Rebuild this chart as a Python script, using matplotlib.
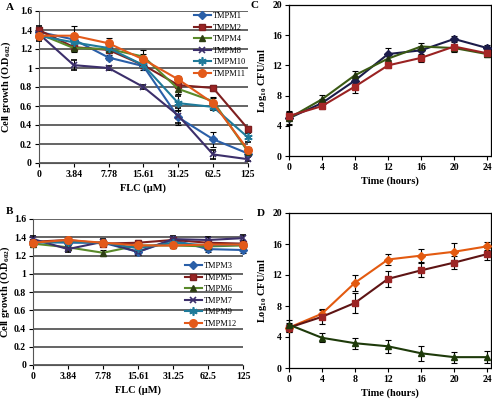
import matplotlib
matplotlib.use("Agg")
import matplotlib.pyplot as plt
from matplotlib.ticker import FuncFormatter

plt.rcParams['font.family'] = ['Liberation Serif', 'DejaVu Serif']
plt.rcParams['mathtext.fontset'] = 'custom'
plt.rcParams['mathtext.rm'] = 'Liberation Serif'
plt.rcParams['mathtext.it'] = 'Liberation Serif'
plt.rcParams['mathtext.bf'] = 'Liberation Serif:bold'

# ---------------- data ----------------
flc_labels = ["0", "3.84", "7.78", "15.61", "31.25", "62.5", "125"]

a_names = ["TMPM1", "TMPM2", "TMPM4", "TMPM8", "TMPM10", "TMPM11"]
a_tmpm1 = [1.38, 1.30, 1.11, 1.02, 0.48, 0.25, 0.10]
a_tmpm2 = [1.40, 1.22, 1.19, 1.03, 0.82, 0.79, 0.36]
a_tmpm4 = [1.36, 1.21, 1.20, 1.12, 0.78, 0.65, 0.12]
a_tmpm8 = [1.36, 1.03, 1.00, 0.80, 0.50, 0.09, 0.04]
a_tmpm10 = [1.34, 1.27, 1.21, 1.03, 0.63, 0.59, 0.27]
a_tmpm11 = [1.34, 1.34, 1.26, 1.09, 0.88, 0.63, 0.14]
a_err1 = [0.03, 0.03, 0.03, 0.04, 0.08, 0.08, 0.03]
a_err2 = [0.03, 0.03, 0.03, 0.03, 0.03, 0.03, 0.03]
a_err4 = [0.03, 0.04, 0.03, 0.07, 0.05, 0.05, 0.03]
a_err8 = [0.08, 0.05, 0.02, 0.02, 0.08, 0.05, 0.02]
a_err10 = [0.03, 0.04, 0.03, 0.03, 0.08, 0.03, 0.05]
a_err11 = [0.03, 0.10, 0.06, 0.06, 0.04, 0.05, 0.03]

b_names = ["TMPM3", "TMPM5", "TMPM6", "TMPM7", "TMPM9", "TMPM12"]
b_tmpm3 = [1.35, 1.34, 1.34, 1.24, 1.37, 1.27, 1.26]
b_tmpm5 = [1.35, 1.37, 1.33, 1.34, 1.37, 1.34, 1.33]
b_tmpm6 = [1.33, 1.29, 1.23, 1.31, 1.31, 1.30, 1.31]
b_tmpm7 = [1.38, 1.27, 1.35, 1.24, 1.38, 1.37, 1.39]
b_tmpm9 = [1.34, 1.35, 1.34, 1.28, 1.34, 1.31, 1.32]
b_tmpm12 = [1.34, 1.37, 1.34, 1.31, 1.31, 1.32, 1.32]
b_err = [0.03, 0.03, 0.03, 0.03, 0.03, 0.03, 0.03]

hours = [0, 4, 8, 12, 16, 20, 24]
c_navy = [5.0, 7.0, 10.0, 13.5, 14.0, 15.5, 14.3]
c_red = [5.3, 6.6, 9.2, 12.0, 13.0, 14.5, 13.6]
c_green = [5.0, 7.5, 10.7, 12.9, 14.5, 14.3, 13.5]
c_err_navy = [0.8, 0.5, 0.6, 0.8, 0.6, 0.4, 0.4]
c_err_red = [0.5, 0.4, 0.9, 0.4, 0.5, 0.7, 0.4]
c_err_green = [0.9, 0.6, 0.5, 0.5, 0.5, 0.4, 0.4]

d_orange = [5.2, 7.0, 11.0, 14.0, 14.5, 15.0, 15.7]
d_red = [5.2, 6.6, 8.4, 11.5, 12.6, 13.6, 14.7]
d_green = [5.6, 3.9, 3.2, 2.8, 1.9, 1.4, 1.4]
d_err_orange = [0.5, 0.6, 1.0, 0.7, 0.8, 1.1, 0.5]
d_err_red = [0.6, 0.9, 1.3, 1.0, 0.9, 0.8, 0.8]
d_err_green = [0.6, 0.6, 0.7, 0.8, 1.0, 0.7, 0.8]

# ---------------- styles ----------------
st = [
    dict(color="#2a5fa8", marker="D", ms=3.8, mec="#2a5fa8", lw=1.5),
    dict(color="#7e1f1f", marker="s", ms=4.5, mec="#7e1f1f", mfc="#9b2525", lw=1.5),
    dict(color="#5a8a2a", marker="^", ms=5, mec="#2e3f14", mfc="#2e3f14", lw=1.5),
    dict(color="#3c2f6b", marker="x", ms=5, mew=1.2, lw=1.5),
    dict(color="#1f7a9a", marker=(6, 2, 0), ms=6, mew=1.2, lw=1.5),
    dict(color="#e35a1a", marker="o", ms=5.5, mec="#e35a1a", lw=1.5),
]

fig = plt.figure(figsize=(4.92, 4.0), dpi=100)

tick_fs = 7
lab_fs = 7.5
EB = dict(ecolor="black", elinewidth=0.8, capsize=2, capthick=0.8, clip_on=False, zorder=3)


def style_grid_axes(ax, ylab_x):
    ax.set_xlim(0, 6)
    ax.set_ylim(0, 1.6)
    ax.set_yticks([0, 0.2, 0.4, 0.6, 0.8, 1.0, 1.2, 1.4, 1.6])
    ax.yaxis.set_major_formatter(FuncFormatter(lambda v, p: f"{v:g}"))
    ax.set_xticks(range(7))
    ax.set_xticklabels(flc_labels)
    ax.grid(axis="y", color="#3a3a3a", lw=1.1)
    ax.set_axisbelow(True)
    for s in ["top", "right"]:
        ax.spines[s].set_visible(False)
    ax.spines["left"].set_color("#555555")
    ax.spines["bottom"].set_color("#555555")
    ax.tick_params(labelsize=tick_fs, length=3, width=0.8, direction="out", colors="black", pad=2)
    for lbl in ax.get_xticklabels() + ax.get_yticklabels():
        lbl.set_fontweight("bold")
    ax.set_ylabel(r"Cell growth (O.D$_{\mathbf{602}}$)", fontsize=lab_fs, fontweight="bold")
    ax.yaxis.set_label_coords(ylab_x, 0.5)
    ax.set_xlabel("FLC (\u00b5M)", fontsize=lab_fs, fontweight="bold", labelpad=3)


xs = list(range(7))

# Panel A
axA = fig.add_axes([0.079, 0.5925, 0.425, 0.38])
handlesA = []
for vals, errs, name, s in zip(
        [a_tmpm1, a_tmpm2, a_tmpm4, a_tmpm8, a_tmpm10, a_tmpm11],
        [a_err1, a_err2, a_err4, a_err8, a_err10, a_err11], a_names, st):
    cont = axA.errorbar(xs, vals, yerr=errs, label=name, **EB, **s)
    handlesA.append(cont.lines[0])
style_grid_axes(axA, -0.125)
axA.legend(handlesA, a_names, loc="upper right", bbox_to_anchor=(1.02, 1.03), frameon=False,
           fontsize=6, handlelength=2.0, handletextpad=0.3, labelspacing=0.42, borderpad=0.2)
axA.text(-0.16, 1.02, "A", transform=axA.transAxes, fontsize=8, fontweight="bold", va="center")

# Panel B
axB = fig.add_axes([0.067, 0.0875, 0.427, 0.365])
handlesB = []
for vals, name, s in zip([b_tmpm3, b_tmpm5, b_tmpm6, b_tmpm7, b_tmpm9, b_tmpm12], b_names, st):
    cont = axB.errorbar(xs, vals, yerr=b_err, label=name, **EB, **s)
    handlesB.append(cont.lines[0])
style_grid_axes(axB, -0.10)
axB.legend(handlesB, b_names, loc="center right", bbox_to_anchor=(1.0, 0.48), frameon=False,
           fontsize=6, handlelength=2.0, handletextpad=0.3, labelspacing=0.42, borderpad=0.2)
axB.text(-0.13, 1.05, "B", transform=axB.transAxes, fontsize=8, fontweight="bold", va="center")


def style_time_axes(ax):
    ax.set_xlim(0, 24.4)
    ax.set_ylim(0, 20)
    ax.set_xticks(hours)
    ax.set_yticks([0, 4, 8, 12, 16, 20])
    for s in ax.spines.values():
        s.set_linewidth(0.9)
    ax.tick_params(labelsize=tick_fs, length=3, width=0.8, direction="out", pad=2)
    for lbl in ax.get_xticklabels() + ax.get_yticklabels():
        lbl.set_fontweight("bold")
    ax.set_ylabel(r"Log$_{\mathbf{10}}$ CFU/ml", fontsize=lab_fs, fontweight="bold")
    ax.yaxis.set_label_coords(-0.10, 0.5)
    ax.set_xlabel("Time (hours)", fontsize=lab_fs, fontweight="bold", labelpad=3)


# Panel C
axC = fig.add_axes([0.587, 0.61, 0.41, 0.3775])
axC.errorbar(hours, c_navy, yerr=c_err_navy, color="#1c1c4a", marker="D", ms=3.8, lw=1.5, **EB)
axC.errorbar(hours, c_green, yerr=c_err_green, color="#3b5a14", marker="^", ms=5,
             mfc="#22330c", mec="#22330c", lw=1.5, **EB)
axC.errorbar(hours, c_red, yerr=c_err_red, color="#9a2222", marker="s", ms=4.5,
             mfc="#a52626", mec="#a52626", lw=1.5, **EB)
style_time_axes(axC)
axC.text(-0.19, 1.0, "C", transform=axC.transAxes, fontsize=8, fontweight="bold", va="center")

# Panel D
axD = fig.add_axes([0.587, 0.08, 0.41, 0.3875])
axD.errorbar(hours, d_orange, yerr=d_err_orange, color="#e35a10", marker="D", ms=3.8, lw=1.5, **EB)
axD.errorbar(hours, d_red, yerr=d_err_red, color="#5e1414", marker="s", ms=4.5,
             mfc="#9b2525", mec="#9b2525", lw=1.5, **EB)
axD.errorbar(hours, d_green, yerr=d_err_green, color="#1e3a0a", marker="^", ms=5, lw=1.5, **EB)
style_time_axes(axD)
axD.text(-0.16, 1.0, "D", transform=axD.transAxes, fontsize=8, fontweight="bold", va="center")

fig.savefig("out.png", dpi=100)
